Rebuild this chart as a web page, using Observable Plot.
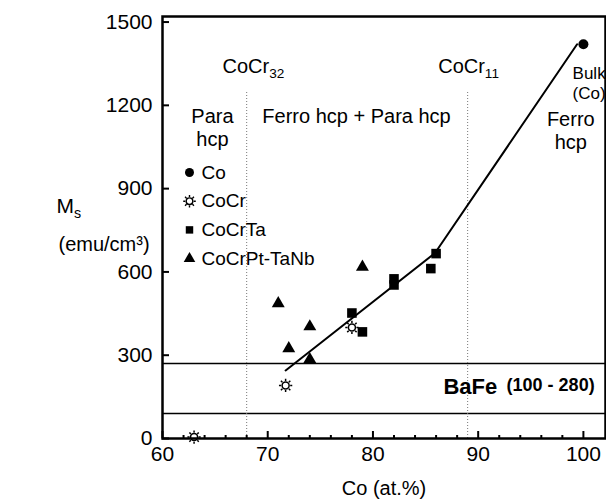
<!DOCTYPE html>
<html><head><meta charset="utf-8">
<script src="https://cdn.jsdelivr.net/npm/d3@7"></script>
<script src="https://cdn.jsdelivr.net/npm/@observablehq/plot@0.6"></script>
<style>body{margin:0;background:#fff;} svg{display:block}</style>
</head><body><div id="chart"></div>
<script>
// ---- data ----
const seriesNames = ["Co", "CoCr", "CoCrTa", "CoCrPt-TaNb"];
const coX = [100];            const coY = [1420];
const cocrX = [63, 71.7, 78]; const cocrY = [5, 191, 400];
const cocrtaX = [78, 79, 82, 82, 85.5, 86];
const cocrtaY = [452, 384, 575, 553, 612, 666];
const ptX = [71, 72, 74, 74, 79];
const ptY = [486, 324, 403, 285, 618];
const fitX = [71.7, 85.9, 99.4];
const fitY = [245, 668, 1420];
const bafeLimits = [90, 270];
const phaseBounds = [68, 89];
const phaseTop = 1253;
const xTicks = [60, 70, 80, 90, 100];
const xMinor = [62, 64, 66, 68, 72, 74, 76, 78, 82, 84, 86, 88, 92, 94, 96, 98];
const yTicks = [0, 300, 600, 900, 1200, 1500];
const annotations = [
  {label: "CoCr_32", x: 65.7, y: 1343, anchor: "start", size: 20},
  {label: "CoCr_11", x: 86.2, y: 1343, anchor: "start", size: 20},
  {label: "Para\nhcp", x: 64.75, y: 1122, anchor: "middle", size: 20},
  {label: "Ferro hcp + Para hcp", x: 78.44, y: 1163, anchor: "middle", size: 20},
  {label: "Ferro\nhcp", x: 98.8, y: 1109, anchor: "middle", size: 20}
];
const bulkLabel = {label: "Bulk\n(Co)", x: 98.97, y: 1282};
const bafeLabel = {label: "BaFe", x: 86.7, y: 184};
const bafeRange = {label: "(100 - 280)", x: 92.7, y: 191};

const zip = (xs, ys) => xs.map((x, i) => ({x, y: ys[i]}));

// open "sun" symbol: circle with 8 rays
const sun = {
  draw(context, size) {
    const r = Math.sqrt(size / Math.PI);
    context.moveTo(r, 0);
    context.arc(0, 0, r, 0, 2 * Math.PI);
    for (let k = 0; k < 8; k++) {
      const a = k * Math.PI / 4;
      context.moveTo(Math.cos(a) * r * 1.3, Math.sin(a) * r * 1.3);
      context.lineTo(Math.cos(a) * r * 1.9, Math.sin(a) * r * 1.9);
    }
  }
};

const legendSymbols = [
  {symbol: "circle", fill: "black", stroke: "none", r: 4.5},
  {symbol: sun, fill: "white", stroke: "black", r: 3.3},
  {symbol: "square", fill: "black", stroke: "none", r: 4.2},
  {symbol: "triangle", fill: "black", stroke: "none", r: 4.3}
];

const legendMarks = seriesNames.flatMap((name, i) => [
  Plot.dot([name], {frameAnchor: "top-left", dx: 27, dy: 156 + i * 28.7,
    symbol: legendSymbols[i].symbol, r: legendSymbols[i].r,
    fill: legendSymbols[i].fill, stroke: legendSymbols[i].stroke, strokeWidth: 1.4}),
  Plot.text([name], {frameAnchor: "top-left", dx: 39, dy: 156 + i * 28.7,
    text: d => d, textAnchor: "start", lineAnchor: "middle", fontSize: 19, fill: "black"})
]);

const chart = Plot.plot({
  width: 606,
  height: 504,
  marginLeft: 162,
  marginRight: 1,
  marginTop: 16,
  marginBottom: 66,
  style: {fontFamily: "'Liberation Sans', Arial, Helvetica, sans-serif", fontSize: "20px", color: "black", background: "white"},
  x: {domain: [60, 102.1]},
  y: {domain: [0, 1520]},
  marks: [
    Plot.ruleY(bafeLimits, {stroke: "black", strokeWidth: 1.4}),
    Plot.ruleX(phaseBounds, {y1: 0, y2: phaseTop, stroke: "#777", strokeWidth: 1, strokeDasharray: "1,2"}),
    Plot.line(zip(fitX, fitY), {x: "x", y: "y", stroke: "black", strokeWidth: 2}),
    Plot.dot(zip(coX, coY), {x: "x", y: "y", r: 5, fill: "black", symbol: "circle"}),
    Plot.dot(zip(cocrX, cocrY), {x: "x", y: "y", r: 3.5, symbol: sun, fill: "white", stroke: "black", strokeWidth: 1.5}),
    Plot.dot(zip(cocrtaX, cocrtaY), {x: "x", y: "y", r: 5.4, symbol: "square", fill: "black"}),
    Plot.dot(zip(ptX, ptY), {x: "x", y: "y", r: 4.8, symbol: "triangle", fill: "black"}),
    ...annotations.map(a => Plot.text([a], {x: "x", y: "y", text: "label", textAnchor: a.anchor,
      lineAnchor: "middle", lineHeight: 1.15, fontSize: a.size, fill: "black"})),
    Plot.text([bulkLabel], {x: "x", y: "y", text: "label", textAnchor: "start", lineAnchor: "middle",
      lineHeight: 1.18, fontSize: 17, fill: "black"}),
    Plot.text([bafeLabel], {x: "x", y: "y", text: "label", textAnchor: "start", lineAnchor: "middle",
      fontSize: 22, fontWeight: "bold", fill: "black"}),
    Plot.text([bafeRange], {x: "x", y: "y", text: "label", textAnchor: "start", lineAnchor: "middle",
      fontSize: 18, fontWeight: "bold", fill: "black"}),
    ...legendMarks,
    Plot.frame({stroke: "black", strokeWidth: 2.5}),
    Plot.axisY({ticks: yTicks, tickSize: 0, tickPadding: 10, tickFormat: d3.format("d"), label: null, fontSize: 21}),
    Plot.axisY({ticks: yTicks, tickSize: -7, text: null, label: null, strokeWidth: 2}),
    Plot.axisX({ticks: xTicks, tickSize: 0, tickPadding: 8, tickFormat: d3.format("d"), label: null, fontSize: 21}),
    Plot.axisX({ticks: xTicks, tickSize: -7, text: null, label: null, strokeWidth: 2}),
    Plot.axisX({ticks: xMinor, tickSize: -3, text: null, label: null, strokeWidth: 2}),
    Plot.text(["Co (at.%)"], {frameAnchor: "bottom", dy: 50, text: d => d, lineAnchor: "middle", fontSize: 20, fill: "black"}),
    Plot.text(["M_s"], {frameAnchor: "left", dx: -106, dy: -21, text: d => d, lineAnchor: "middle", fontSize: 21, fill: "black"}),
    Plot.text(["(emu/cm³)"], {frameAnchor: "left", dx: -104, dy: 17, text: d => d, lineAnchor: "middle", fontSize: 20, fill: "black"})
  ]
});

// subscripts for labels written as "base_sub"
d3.select(chart).selectAll("text").each(function() {
  if (this.childElementCount === 0 && this.textContent.includes("_")) {
    const [a, b] = this.textContent.split("_");
    this.textContent = a;
    d3.select(this).append("tspan").attr("dy", "0.35em").attr("font-size", "0.68em").text(b);
  }
});

document.getElementById("chart").appendChild(chart);
</script>
</body></html>
